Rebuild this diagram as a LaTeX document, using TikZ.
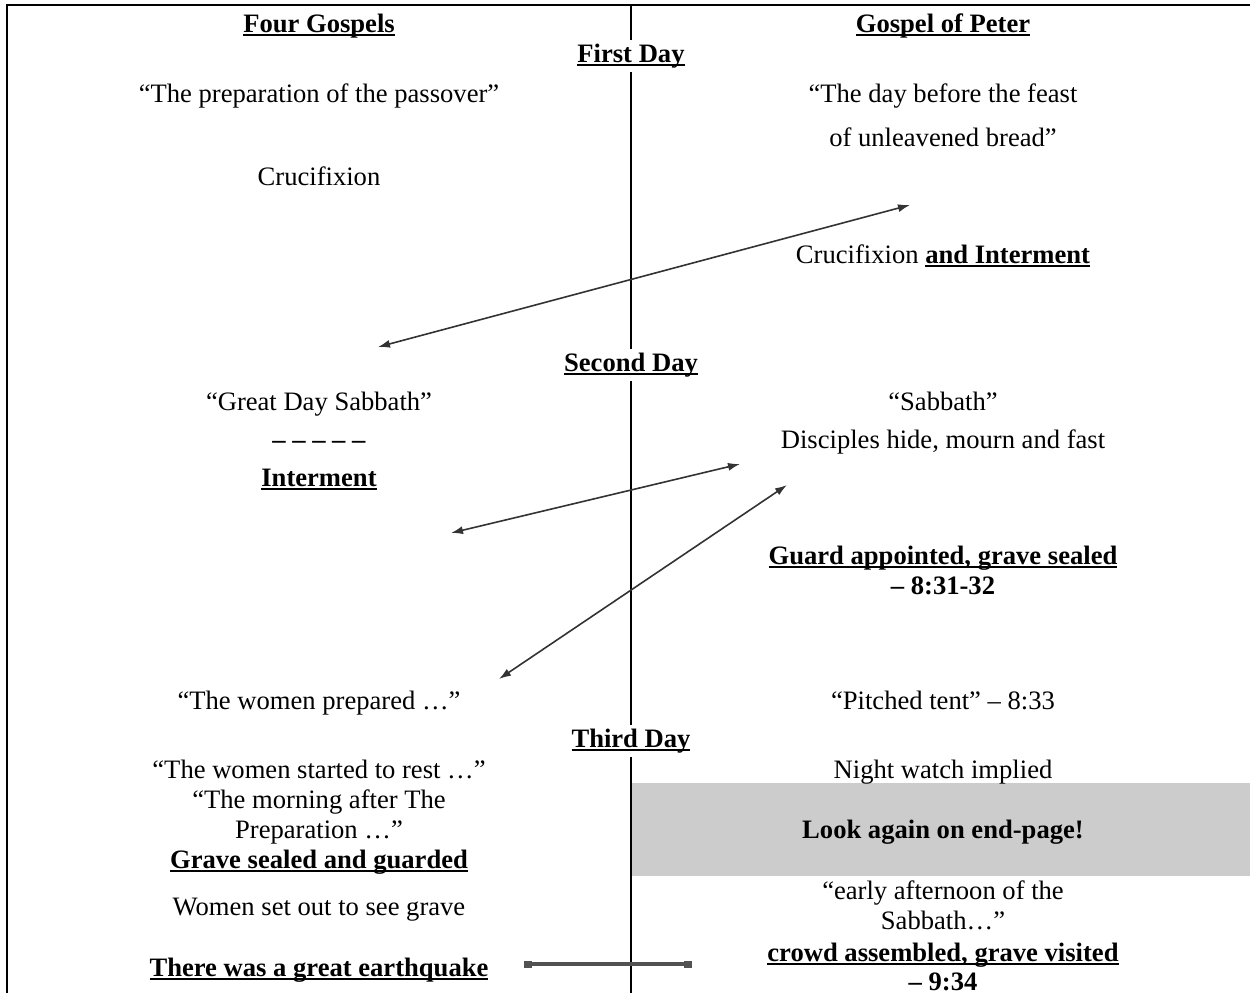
\documentclass[tikz,border=0pt]{standalone}
\usepackage{fontspec}
\setmainfont{Liberation Serif}
\usetikzlibrary{arrows.meta}
\definecolor{boxgray}{HTML}{CCCCCC}
\definecolor{arrowgray}{HTML}{333333}
\newsavebox{\myulbox}
\newcommand{\myul}[1]{\sbox{\myulbox}{#1}\rlap{\rule[-1.9pt]{\wd\myulbox}{0.75pt}}\usebox{\myulbox}}
\begin{document}
\begin{tikzpicture}[x=0.5pt,y=-0.5pt,
  txt/.style={anchor=base,inner sep=0pt,font=\fontsize{13.3}{16}\selectfont,align=center},
  dayhead/.style={txt,fill=white,inner sep=2pt},
  frameline/.style={line width=1pt,black},
  link/.style={arrowgray,line width=0.8pt,{Latex[length=6pt,width=4pt]}-{Latex[length=6pt,width=4pt]}},
  quake/.style={arrowgray!85!white,line width=1.6pt,{Square[length=4pt,width=3.5pt]}-{Square[length=4pt,width=3.5pt]}}]
\useasboundingbox (0,0) rectangle (1250,993);
% frame
\coordinate (tl) at (7,5);
\coordinate (tr) at (1250,5);
\coordinate (bl) at (7,993);
\coordinate (ct) at (631,5);
\coordinate (cb) at (631,993);
\draw[frameline] (bl) -- (tl) -- (tr);
% gray box
\fill[boxgray] (632,783) rectangle (1250,876);
\draw[frameline] (ct) -- (cb);
% headers
\node[txt] (fg) at (319,32) {\myul{\textbf{Four Gospels}}};
\node[txt] (gp) at (943,32) {\myul{\textbf{Gospel of Peter}}};
% day labels
\node[dayhead] (d1) at (631,62) {\myul{\textbf{First Day}}};
\node[dayhead] (d2) at (631,371) {\myul{\textbf{Second Day}}};
\node[dayhead] (d3) at (631,747) {\myul{\textbf{Third Day}}};
% left column
\node[txt] (l1) at (319,102) {“The preparation of the passover”};
\node[txt] (l2) at (319,185) {Crucifixion};
\node[txt] (l3) at (319,410) {“Great Day Sabbath”};
\node[txt] (l4) at (319,448) {\textbf{– – – – –}};
\node[txt] (l5) at (319,486) {\myul{\textbf{Interment}}};
\node[txt] (l6) at (319,709) {“The women prepared …”};
\node[txt] (l7) at (319,778) {“The women started to rest …”};
\node[txt] (l8) at (319,808) {“The morning after The};
\node[txt] (l9) at (319,838) {Preparation …”};
\node[txt] (l10) at (319,868) {\myul{\textbf{Grave sealed and guarded}}};
\node[txt] (l11) at (319,915) {Women set out to see grave};
\node[txt] (l12) at (319,976) {\myul{\textbf{There was a great earthquake}}};
% right column
\node[txt] (r1) at (943,102) {“The day before the feast};
\node[txt] (r2) at (943,146) {of unleavened bread”};
\node[txt] (r3) at (943,263) {Crucifixion \myul{\textbf{and Interment}}};
\node[txt] (r4) at (943,410) {“Sabbath”};
\node[txt] (r5) at (943,448) {Disciples hide, mourn and fast};
\node[txt] (r6) at (943,564) {\myul{\textbf{Guard appointed, grave sealed}}};
\node[txt] (r7) at (943,594) {\textbf{– 8:31-32}};
\node[txt] (r8) at (943,709) {“Pitched tent” – 8:33};
\node[txt] (r9) at (943,778) {Night watch implied};
\node[txt] (r10) at (943,838) {\textbf{Look again on end-page!}};
\node[txt] (r11) at (943,899) {“early afternoon of the};
\node[txt] (r12) at (943,929) {Sabbath…”};
\node[txt] (r13) at (943,961) {\myul{\textbf{crowd assembled, grave visited}}};
\node[txt] (r14) at (943,990) {\textbf{– 9:34}};
% arrow end points
\coordinate (a1l) at (378,347);
\coordinate (a1r) at (910,205);
\coordinate (a2l) at (451,533);
\coordinate (a2r) at (740,464);
\coordinate (a3l) at (499,679);
\coordinate (a3r) at (787,485);
\coordinate (a4l) at (524,964);
\coordinate (a4r) at (692,964);
\draw[link] (a1l) -- (a1r);
\draw[link] (a2l) -- (a2r);
\draw[link] (a3l) -- (a3r);
\draw[quake] (a4l) -- (a4r);
\end{tikzpicture}
\end{document}
